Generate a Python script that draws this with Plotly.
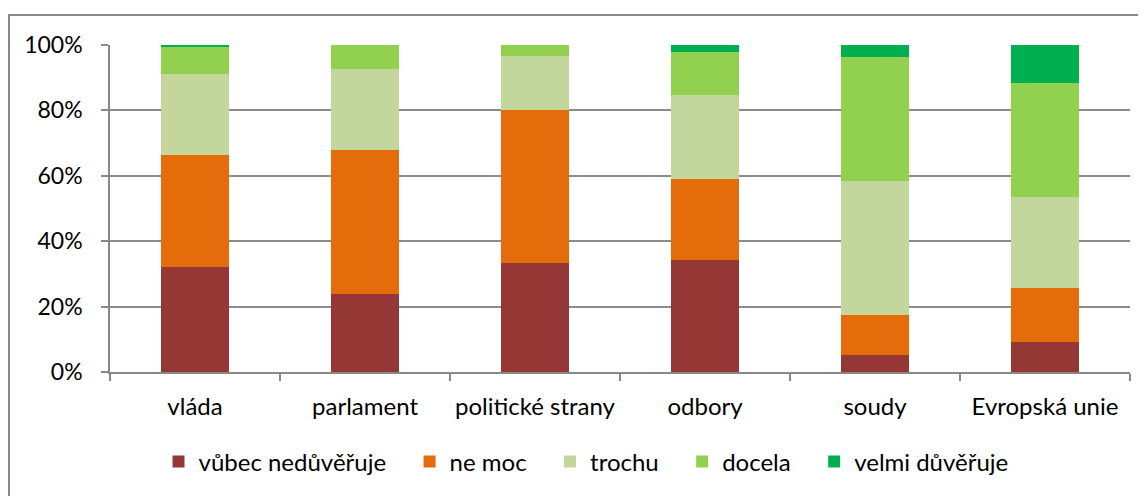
import plotly.graph_objects as go

categories = ["vláda", "parlament", "politické strany", "odbory", "soudy", "Evropská unie"]
series_names = ["vůbec nedůvěřuje", "ne moc", "trochu", "docela", "velmi důvěřuje"]
vubec = [32.1, 24.0, 33.2, 34.2, 5.3, 9.2]
ne_moc = [34.4, 43.9, 46.9, 24.8, 12.1, 16.5]
trochu = [24.7, 24.8, 16.6, 25.7, 41.1, 27.7]
docela = [8.3, 7.3, 3.3, 13.3, 37.9, 34.9]
velmi = [0.5, 0.0, 0.0, 2.0, 3.6, 11.7]
colors = ["#953735", "#E46C0A", "#C3D69B", "#92D050", "#00B050"]
y_ticks = [0, 20, 40, 60, 80, 100]
y_tick_labels = ["0%", "20%", "40%", "60%", "80%", "100%"]

FONT = "Lato"
FS = 24
PAD = "\u00a0" * 3
fig = go.Figure()
all_vals = [vubec, ne_moc, trochu, docela, velmi]
for i, (name, vals, col) in enumerate(zip(series_names, all_vals, colors)):
    label = name + (PAD if i < len(series_names) - 1 else "")
    fig.add_trace(go.Bar(
        x=categories, y=vals, name=label,
        marker=dict(color=col, line=dict(width=0)),
        width=0.4,
    ))

# page has an 8px body margin; figure coords = reference coords - 8
OFF = 8
W, H = 1146 - OFF, 496 - OFF
L, T = 110 - OFF, 45 - OFF
PR, PB = 1130 - OFF, 372 - OFF
R, B = W - PR, H - PB
pw = PR - L
ph = PB - T

def py(y):
    return (PB - (y - OFF)) / ph

def px(x):
    return ((x - OFF) - L) / pw

fig.update_layout(
    width=W, height=H,
    barmode="stack",
    margin=dict(l=L, r=R, t=T, b=B, autoexpand=False),
    paper_bgcolor="white", plot_bgcolor="white",
    font=dict(family=FONT, size=FS, color="#000000"),
    showlegend=True,
    legend=dict(
        orientation="h", x=px(586), xanchor="center",
        y=py(462), yanchor="middle",
        font=dict(family=FONT, size=FS, color="#000000"),
        itemwidth=30, traceorder="normal", tracegroupgap=0,
    ),
    xaxis=dict(
        type="category", tickson="boundaries",
        showline=True, linecolor="#888888", linewidth=1.5,
        ticks="outside", ticklen=7, tickcolor="#888888", tickwidth=1.5,
        ticklabelstandoff=12, tickangle=0, automargin=False,
        showgrid=False, range=[-0.5, 5.5],
        tickfont=dict(family=FONT, size=FS, color="#000000"),
    ),
    yaxis=dict(
        range=[0, 100], tickvals=y_ticks, ticktext=y_tick_labels,
        showline=True, linecolor="#888888", linewidth=1.5,
        ticks="outside", ticklen=7, tickcolor="#888888", tickwidth=1.5,
        ticklabelstandoff=14, automargin=False,
        showgrid=True, gridcolor="#8c8c8c", gridwidth=1.5,
        zeroline=False,
        tickfont=dict(family=FONT, size=23, color="#000000"),
    ),
    shapes=[dict(
        type="rect", xref="paper", yref="paper",
        x0=px(9), x1=px(1170),
        y0=py(520), y1=py(15),
        line=dict(color="#888888", width=2), fillcolor="rgba(0,0,0,0)",
        layer="below",
    )],
)

fig.write_html("out.html")
